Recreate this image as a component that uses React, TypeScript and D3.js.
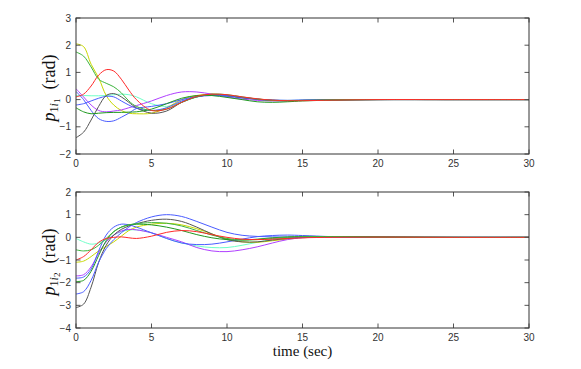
import React from "react";
import * as d3 from "d3";

// time samples (sec)
const T = [0, 0.5, 1, 1.5, 2, 2.5, 3, 3.5, 4, 5, 6, 7, 8, 9, 10, 11, 12, 13, 14, 15, 17, 20, 25, 30];

// top panel: p_{1 i_1}
const topRed = [0.1, 0.2, 0.5, 0.9, 1.1, 1.05, 0.75, 0.35, 0.0, -0.4, -0.35, -0.1, 0.12, 0.2, 0.18, 0.1, 0.03, -0.02, -0.04, -0.04, -0.02, 0, 0, 0];
const topYellow = [2.05, 1.95, 1.3, 0.8, 0.15, -0.2, -0.4, -0.5, -0.52, -0.5, -0.3, 0.0, 0.15, 0.2, 0.15, 0.08, 0.02, -0.02, -0.04, -0.03, -0.01, 0, 0, 0];
const topGreenA = [1.75, 1.6, 1.2, 0.75, 0.6, 0.47, 0.25, -0.05, -0.25, -0.4, -0.35, -0.1, 0.1, 0.2, 0.18, 0.1, 0.02, -0.03, -0.04, -0.03, -0.01, 0, 0, 0];
const topCyan = [0.15, 0.15, 0.14, 0.14, 0.15, 0.18, 0.2, 0.18, 0.1, -0.15, -0.25, -0.1, 0.1, 0.18, 0.15, 0.08, 0.02, -0.02, -0.03, -0.02, -0.01, 0, 0, 0];
const topPurple = [0.4, 0.1, -0.2, -0.4, -0.45, -0.42, -0.38, -0.3, -0.22, -0.05, 0.15, 0.28, 0.28, 0.2, 0.1, 0.02, -0.03, -0.05, -0.05, -0.03, -0.01, 0, 0, 0];
const topBlueA = [0.3, 0.0, -0.4, -0.7, -0.8, -0.78, -0.65, -0.5, -0.33, -0.25, -0.15, 0.0, 0.12, 0.17, 0.15, 0.08, 0.02, -0.02, -0.03, -0.02, -0.01, 0, 0, 0];
const topBlueB = [-0.2, -0.15, -0.05, 0.05, 0.12, 0.1, -0.05, -0.2, -0.32, -0.4, -0.3, -0.05, 0.1, 0.15, 0.12, 0.06, 0.01, -0.02, -0.03, -0.02, -0.01, 0, 0, 0];
const topGray = [-1.4, -1.2, -0.75, -0.25, 0.15, 0.22, 0.1, -0.1, -0.3, -0.5, -0.42, -0.1, 0.1, 0.18, 0.15, 0.07, 0.01, -0.03, -0.04, -0.03, -0.01, 0, 0, 0];
const topGreenB = [-0.3, -0.45, -0.52, -0.5, -0.48, -0.47, -0.47, -0.46, -0.45, -0.35, -0.15, 0.05, 0.15, 0.15, 0.08, 0.0, -0.08, -0.1, -0.08, -0.05, -0.02, 0, 0, 0];

// bottom panel: p_{1 i_2}
const botGray = [-3.1, -2.95, -2.2, -1.1, -0.35, 0.1, 0.35, 0.5, 0.6, 0.75, 0.8, 0.7, 0.45, 0.15, -0.1, -0.2, -0.2, -0.12, -0.05, 0.0, 0.03, 0.02, 0, 0];
const botBlueA = [-2.5, -2.4, -1.9, -1.1, -0.5, -0.1, 0.2, 0.45, 0.65, 0.9, 1.0, 0.92, 0.7, 0.45, 0.22, 0.09, 0.04, 0.02, 0.01, 0.0, 0.0, 0, 0, 0];
const botBlueB = [-1.8, -1.75, -1.4, -0.6, 0.1, 0.45, 0.58, 0.55, 0.45, 0.2, -0.05, -0.25, -0.32, -0.3, -0.2, -0.08, 0.03, 0.08, 0.1, 0.08, 0.03, 0, 0, 0];
const botPurple = [-1.7, -1.65, -1.3, -0.7, -0.2, 0.1, 0.28, 0.35, 0.33, 0.2, 0.0, -0.2, -0.45, -0.6, -0.63, -0.55, -0.42, -0.25, -0.1, -0.02, 0.02, 0.01, 0, 0];
const botGreenA = [-1.95, -1.9, -1.5, -0.8, -0.15, 0.25, 0.45, 0.55, 0.58, 0.55, 0.45, 0.3, 0.12, -0.02, -0.1, -0.12, -0.08, -0.02, 0.02, 0.04, 0.03, 0.01, 0, 0];
const botRed = [-1.0, -0.85, -0.55, -0.22, -0.05, 0.0, 0.02, -0.02, -0.05, 0.05, 0.22, 0.3, 0.25, 0.12, 0.0, -0.08, -0.1, -0.08, -0.05, -0.02, 0.0, 0.01, 0, 0];
const botYellow = [-1.1, -1.05, -0.85, -0.6, -0.4, -0.2, 0.05, 0.3, 0.45, 0.58, 0.62, 0.55, 0.38, 0.15, -0.08, -0.2, -0.22, -0.15, -0.08, -0.02, 0.02, 0.01, 0, 0];
const botGreenB = [-0.55, -0.6, -0.55, -0.35, -0.05, 0.25, 0.45, 0.55, 0.6, 0.65, 0.62, 0.5, 0.3, 0.1, -0.05, -0.12, -0.1, -0.05, 0.0, 0.03, 0.03, 0.01, 0, 0];
const botCyan = [-0.05, -0.2, -0.3, -0.25, -0.1, 0.1, 0.25, 0.32, 0.33, 0.2, -0.05, -0.25, -0.38, -0.45, -0.45, -0.35, -0.22, -0.1, -0.03, 0.0, 0.02, 0.01, 0, 0];

const xTicks = [0, 5, 10, 15, 20, 25, 30];
const topYTicks = [-2, -1, 0, 1, 2, 3];
const botYTicks = [-4, -3, -2, -1, 0, 1, 2];

const C = {
  red: "#ff2a2a",
  yellow: "#c8d800",
  greenA: "#3cb43c",
  greenB: "#1f991f",
  cyan: "#6effc8",
  purple: "#b040ff",
  blue: "#4a5cff",
  gray: "#555555",
};

const topSeries = [
  { v: topCyan, c: C.cyan },
  { v: topYellow, c: C.yellow },
  { v: topPurple, c: C.purple },
  { v: topBlueB, c: C.blue },
  { v: topGray, c: C.gray },
  { v: topBlueA, c: C.blue },
  { v: topGreenB, c: C.greenB },
  { v: topGreenA, c: C.greenA },
  { v: topRed, c: C.red },
];
const botSeries = [
  { v: botCyan, c: C.cyan },
  { v: botYellow, c: C.yellow },
  { v: botPurple, c: C.purple },
  { v: botBlueB, c: C.blue },
  { v: botGray, c: C.gray },
  { v: botBlueA, c: C.blue },
  { v: botGreenA, c: C.greenB },
  { v: botGreenB, c: C.greenA },
  { v: botRed, c: C.red },
];

const L = 76, R = 529;
const W = 581, H = 369;

function Panel({ top, bottom, domain, yTicks, series, id, label2 }: any) {
  const x = d3.scaleLinear().domain([0, 30]).range([L, R]);
  const y = d3.scaleLinear().domain(domain).range([bottom, top]);
  const line = d3
    .line<number>()
    .x((_, i) => x(T[i]))
    .y((d) => y(d))
    .curve(d3.curveCatmullRom.alpha(0.5));
  const tl = 4.5;
  const cy = (top + bottom) / 2 + 2;
  return (
    <g>
      <defs>
        <clipPath id={id}>
          <rect x={L} y={top} width={R - L} height={bottom - top} />
        </clipPath>
      </defs>
      <g clipPath={`url(#${id})`}>
        {series.map((s: any, i: number) => (
          <path key={i} d={line(s.v) || ""} fill="none" stroke={s.c} strokeWidth={1} />
        ))}
      </g>
      {xTicks.map((t) => (
        <g key={t}>
          <line x1={x(t)} x2={x(t)} y1={bottom} y2={bottom - tl} stroke="#555" />
          <line x1={x(t)} x2={x(t)} y1={top} y2={top + tl} stroke="#555" />
          <text x={x(t)} y={bottom + 13} textAnchor="middle" fontSize={10} fontFamily="Liberation Sans, Arial, sans-serif" fill="#333">
            {t}
          </text>
        </g>
      ))}
      {yTicks.map((t: number) => (
        <g key={t}>
          <line x1={L} x2={L + tl} y1={y(t)} y2={y(t)} stroke="#555" />
          <line x1={R} x2={R - tl} y1={y(t)} y2={y(t)} stroke="#555" />
          <text x={71} y={y(t) + 3.5} textAnchor="end" fontSize={10} fontFamily="Liberation Sans, Arial, sans-serif" fill="#333">
            {t < 0 ? "\u2212" + Math.abs(t) : String(t)}
          </text>
        </g>
      ))}
      <rect x={L} y={top} width={R - L} height={bottom - top} fill="none" stroke="#333" strokeWidth={1} />
      <text
        transform={`translate(55,${cy}) rotate(-90)`}
        textAnchor="middle"
        fontFamily="Liberation Serif, Times New Roman, serif"
        fontSize={18}
        fill="#111"
      >
        <tspan fontStyle="italic">p</tspan>
        <tspan fontSize={12} dy={3}>1</tspan>
        <tspan fontSize={12} fontStyle="italic">i</tspan>
        <tspan fontSize={9} dy={2}>{label2}</tspan>
        <tspan dy={-5}>{"\u2002(rad)"}</tspan>
      </text>
    </g>
  );
}

export default function App() {
  return (
    <svg width={W} height={H} style={{ position: "absolute", left: 0, top: 0, background: "#fff" }}>
      <rect width={W} height={H} fill="#fff" />
      <Panel top={18} bottom={154} domain={[-2, 3]} yTicks={topYTicks} series={topSeries} id="clipTop" label2="1" />
      <Panel top={192} bottom={328} domain={[-4, 2]} yTicks={botYTicks} series={botSeries} id="clipBot" label2="2" />
      <text x={302.5} y={356} textAnchor="middle" fontFamily="Liberation Serif, Times New Roman, serif" fontSize={15} fill="#111">
        time (sec)
      </text>
    </svg>
  );
}
